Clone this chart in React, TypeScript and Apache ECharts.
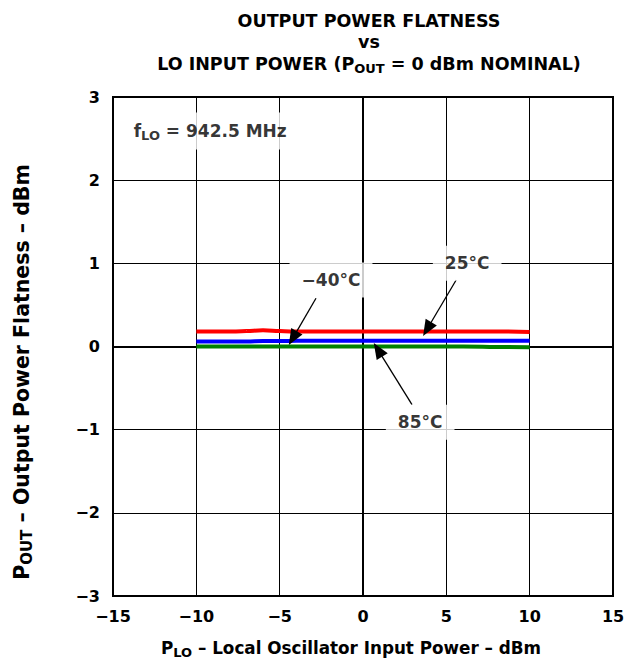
import React, { useEffect, useRef } from "react";
import * as echarts from "echarts";

const xValues = [-10, -8, -7, -6, -5, -4, -2, 0, 2, 4, 6, 8, 10];
const series25 = [0.18, 0.18, 0.185, 0.195, 0.185, 0.18, 0.18, 0.18, 0.18, 0.18, 0.18, 0.18, 0.175];
const seriesM40 = [0.06, 0.06, 0.06, 0.065, 0.065, 0.07, 0.07, 0.07, 0.07, 0.07, 0.07, 0.07, 0.07];
const series85 = [0.0, 0.0, 0.0, 0.0, 0.0, 0.0, 0.0, 0.0, 0.0, 0.0, 0.0, -0.005, -0.01];

const xTicks = [-15, -10, -5, 0, 5, 10, 15];
const yTicks = [-3, -2, -1, 0, 1, 2, 3];

const titleText = "OUTPUT POWER FLATNESS\nvs\nLO INPUT POWER (P{s|OUT} = 0 dBm NOMINAL)";
const xTitle = "P{s|LO} – Local Oscillator Input Power – dBm";
const yTitle = "P{s|OUT} – Output Power Flatness – dBm";

// annotation labels: [x, y, text]
const annLabels: [number, number, string][] = [
  [6.25, 1.0, "25°C"],
  [-1.92, 0.8, "−40°C"],
  [3.43, -0.91, "85°C"],
];
const fLabel: [number, number, string] = [-14.0, 2.59, "f{s|LO} = 942.5 MHz"];

// arrows: [fromX, fromY, toX, toY]
const arrows: [number, number, number, number][] = [
  [5.59, 0.8, 3.85, 0.21],
  [-2.82, 0.58, -4.21, 0.1],
  [2.94, -0.7, 0.9, -0.04],
];

const FONT = "'DejaVu Sans', Verdana, sans-serif";

export default function App() {
  const ref = useRef<HTMLDivElement>(null);
  useEffect(() => {
    if (!ref.current) return;
    const chart = echarts.init(ref.current, undefined, { renderer: "svg" });
    const sub = (size: number) => ({
      fontSize: size,
      fontWeight: "bold",
      fontFamily: FONT,
      color: "#000",
      verticalAlign: "bottom",
      lineHeight: size,
    });
    const pair = (arr: number[]) => xValues.map((x, i) => [x, arr[i]]);
    const fmtTick = (ticks: number[]) => (v: number) =>
      ticks.includes(v) ? String(v).replace("-", "−") : "";
    chart.setOption({
      animation: false,
      backgroundColor: "#fff",
      title: {
        text: titleText,
        left: 364,
        top: 5,
        textAlign: "center",
        textStyle: {
          fontFamily: FONT,
          fontSize: 17.5,
          fontWeight: "bold",
          color: "#000",
          lineHeight: 21.5,
          rich: { s: sub(13) },
        },
      },
      graphic: [
        {
          type: "text",
          x: 351,
          y: 648,
          style: {
            text: xTitle,
            textAlign: "center",
            textVerticalAlign: "middle",
            fontFamily: FONT,
            fontSize: 16.8,
            fontWeight: "bold",
            fill: "#000",
            lineHeight: 21,
            rich: { s: sub(13) },
          },
        },
        {
          type: "text",
          x: 22,
          y: 372,
          rotation: Math.PI / 2,
          style: {
            text: yTitle,
            textAlign: "center",
            textVerticalAlign: "middle",
            fontFamily: FONT,
            fontSize: 20.5,
            fontWeight: "bold",
            fill: "#000",
            lineHeight: 24,
            rich: { s: sub(15) },
          },
        },
      ],
      grid: {
        left: 113,
        right: 19,
        top: 97,
        bottom: 70,
        show: true,
        borderColor: "#000",
        borderWidth: 2,
        containLabel: false,
      },
      xAxis: {
        type: "value",
        min: -15,
        max: 15,
        interval: 5,
        axisLine: { show: true, lineStyle: { color: "#000", width: 2 } },
        axisTick: { show: false },
        splitLine: { show: true, lineStyle: { color: "#000", width: 1 } },
        axisLabel: {
          fontFamily: FONT,
          fontSize: 16,
          fontWeight: "bold",
          color: "#000",
          margin: 12,
          formatter: fmtTick(xTicks),
        },
      },
      yAxis: {
        type: "value",
        min: -3,
        max: 3,
        interval: 1,
        axisLine: { show: true, lineStyle: { color: "#000", width: 2 } },
        axisTick: { show: false },
        splitLine: { show: true, lineStyle: { color: "#000", width: 1 } },
        axisLabel: {
          fontFamily: FONT,
          fontSize: 16,
          fontWeight: "bold",
          color: "#000",
          margin: 13,
          formatter: fmtTick(yTicks),
        },
      },
      series: [
        {
          name: "85°C",
          type: "line",
          data: pair(series85),
          showSymbol: false,
          smooth: true,
          lineStyle: { color: "#008000", width: 4 },
          z: 2,
        },
        {
          name: "-40°C",
          type: "line",
          data: pair(seriesM40),
          showSymbol: false,
          smooth: true,
          lineStyle: { color: "#0000ff", width: 4 },
          z: 3,
        },
        {
          name: "25°C",
          type: "line",
          data: pair(series25),
          showSymbol: false,
          smooth: true,
          lineStyle: { color: "#ff0000", width: 4 },
          z: 4,
        },
        {
          name: "annotations",
          type: "scatter",
          symbolSize: 0,
          silent: true,
          z: 5,
          data: [
            ...annLabels.map(([x, y, t]) => ({
              value: [x, y],
              label: {
                show: true,
                position: "inside",
                formatter: t,
                fontFamily: FONT,
                fontSize: 17,
                fontWeight: "bold",
                color: "#000",
                textBorderWidth: 0,
                backgroundColor: "#fff",
                padding: [9, 12],
              },
            })),
            {
              value: [fLabel[0], fLabel[1]],
              label: {
                show: true,
                position: "right",
                distance: 0,
                formatter: fLabel[2],
                fontFamily: FONT,
                fontSize: 17,
                fontWeight: "bold",
                color: "#000",
                textBorderWidth: 0,
                backgroundColor: "#fff",
                padding: [8, 4],
                lineHeight: 21,
                rich: { s: sub(13) },
              },
            },
          ],
          markLine: {
            silent: true,
            symbol: ["none", "triangle"],
            symbolSize: [13, 16],
            label: { show: false },
            lineStyle: { color: "#000", width: 1.3, type: "solid" },
            itemStyle: { color: "#000" },
            data: arrows.map(([x1, y1, x2, y2]) => [
              { coord: [x1, y1] },
              { coord: [x2, y2] },
            ]),
          },
        },
      ],
    });
    return () => chart.dispose();
  }, []);
  return <div ref={ref} style={{ width: 632, height: 666, margin: -8 }} />;
}
